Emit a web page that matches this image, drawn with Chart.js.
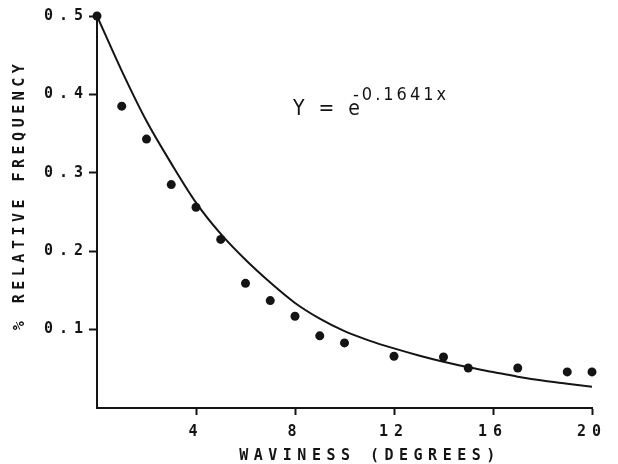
<!DOCTYPE html>
<html>
<head>
<meta charset="utf-8">
<title>Waviness</title>
<script src="https://cdn.jsdelivr.net/npm/chart.js@4.4.1/dist/chart.umd.min.js"></script>
<style>
html, body { margin: 0; padding: 0; background: #fff; }
canvas { display: block; }
</style>
</head>
<body>
<canvas id="graphCanvas" width="618" height="464"></canvas>
<script>
// measured points: waviness (degrees) vs relative frequency
var waviness = [0, 1, 2, 3, 4, 5, 6, 7, 8, 9, 10, 12, 14, 15, 17, 19, 20];
var frequency = [0.500, 0.385, 0.343, 0.285, 0.256, 0.215, 0.159, 0.137, 0.117, 0.092, 0.083, 0.066, 0.065, 0.051, 0.051, 0.046, 0.046];

// fitted curve
var fitX = [0, 1, 2, 3, 4, 5, 6, 7, 8, 9, 10, 11, 12, 13, 14, 15, 16, 17, 18, 19, 20];
var fitY = [0.500, 0.430, 0.366, 0.312, 0.262, 0.222, 0.189, 0.160, 0.134, 0.114, 0.098, 0.086, 0.076, 0.067, 0.059, 0.052, 0.046, 0.040, 0.035, 0.031, 0.027];

var xTicks = [4, 8, 12, 16, 20];
var yTicks = [0.1, 0.2, 0.3, 0.4, 0.5];

var xTitle = 'WAVINESS (DEGREES)';
var yTitle = '% RELATIVE FREQUENCY';
var eqBase = 'Y = e';
var eqPower = '-0.1641x';

var ink = '#141414';
var mono = '"DejaVu Sans Mono", "Liberation Mono", monospace';
var narrow = '"Liberation Sans Narrow", "DejaVu Sans Condensed", "Liberation Sans", sans-serif';

function pairs(xs, ys) {
    var out = [];
    for (var i in xs) {
        out.push({ x: xs[i], y: ys[i] });
    }
    return out;
}

// axis titles and the equation, drawn on top of the chart
var paperText = {
    id: 'paperText',
    beforeDraw: function (chart) {
        chart.ctx.letterSpacing = '6px';
    },
    afterDraw: function (chart) {
        var ctx = chart.ctx;
        ctx.save();
        ctx.fillStyle = ink;
        ctx.textBaseline = 'middle';
        ctx.textAlign = 'center';

        ctx.font = 'bold 15px ' + mono;
        ctx.letterSpacing = '5.5px';
        ctx.fillText(xTitle, 370, 456);

        ctx.save();
        ctx.translate(20, 195);
        ctx.rotate(-Math.PI / 2);
        ctx.letterSpacing = '4.5px';
        ctx.fillText(yTitle, 0, 0);
        ctx.restore();

        ctx.textAlign = 'left';
        ctx.textBaseline = 'alphabetic';
        ctx.font = '21px ' + narrow;
        ctx.letterSpacing = '4px';
        ctx.fillText(eqBase, 293, 115);
        ctx.font = '18px ' + narrow;
        ctx.letterSpacing = '3px';
        ctx.fillText(eqPower, 353, 100);
        ctx.restore();
    }
};

var tickFont = { family: mono, size: 15, weight: 'bold' };

new Chart(document.getElementById('graphCanvas'), {
    type: 'scatter',
    data: {
        datasets: [
            {
                label: 'observed',
                data: pairs(waviness, frequency),
                backgroundColor: ink,
                borderColor: ink,
                pointRadius: 4.5,
                pointBorderWidth: 0,
                clip: false
            },
            {
                label: 'fit',
                data: pairs(fitX, fitY),
                showLine: true,
                borderColor: ink,
                borderWidth: 2,
                pointRadius: 0,
                cubicInterpolationMode: 'monotone',
                fill: false
            }
        ]
    },
    options: {
        responsive: false,
        animation: false,
        events: [],
        layout: { padding: { top: 16, right: 26, left: 0, bottom: 0 } },
        plugins: {
            legend: { display: false },
            tooltip: { enabled: false }
        },
        scales: {
            x: {
                type: 'linear',
                min: 0,
                max: 20,
                afterBuildTicks: function (scale) {
                    scale.ticks = xTicks.map(function (v) { return { value: v }; });
                },
                afterFit: function (scale) { scale.height = 56; },
                grid: { drawOnChartArea: false, tickLength: 7, tickWidth: 2, tickColor: ink },
                border: { color: ink, width: 2 },
                ticks: {
                    color: ink,
                    font: tickFont,
                    padding: 8,
                    maxRotation: 0,
                    autoSkip: false,
                    callback: function (v) { return String(v); }
                }
            },
            y: {
                type: 'linear',
                min: 0,
                max: 0.5,
                afterBuildTicks: function (scale) {
                    scale.ticks = yTicks.map(function (v) { return { value: v }; });
                },
                afterFit: function (scale) { scale.width = 97; },
                grid: { drawOnChartArea: false, tickLength: 8, tickWidth: 2, tickColor: ink },
                border: { color: ink, width: 2 },
                ticks: {
                    color: ink,
                    font: tickFont,
                    padding: 0,
                    autoSkip: false,
                    callback: function (v) { return v.toFixed(1); }
                }
            }
        }
    },
    plugins: [paperText]
});
</script>
</body>
</html>
